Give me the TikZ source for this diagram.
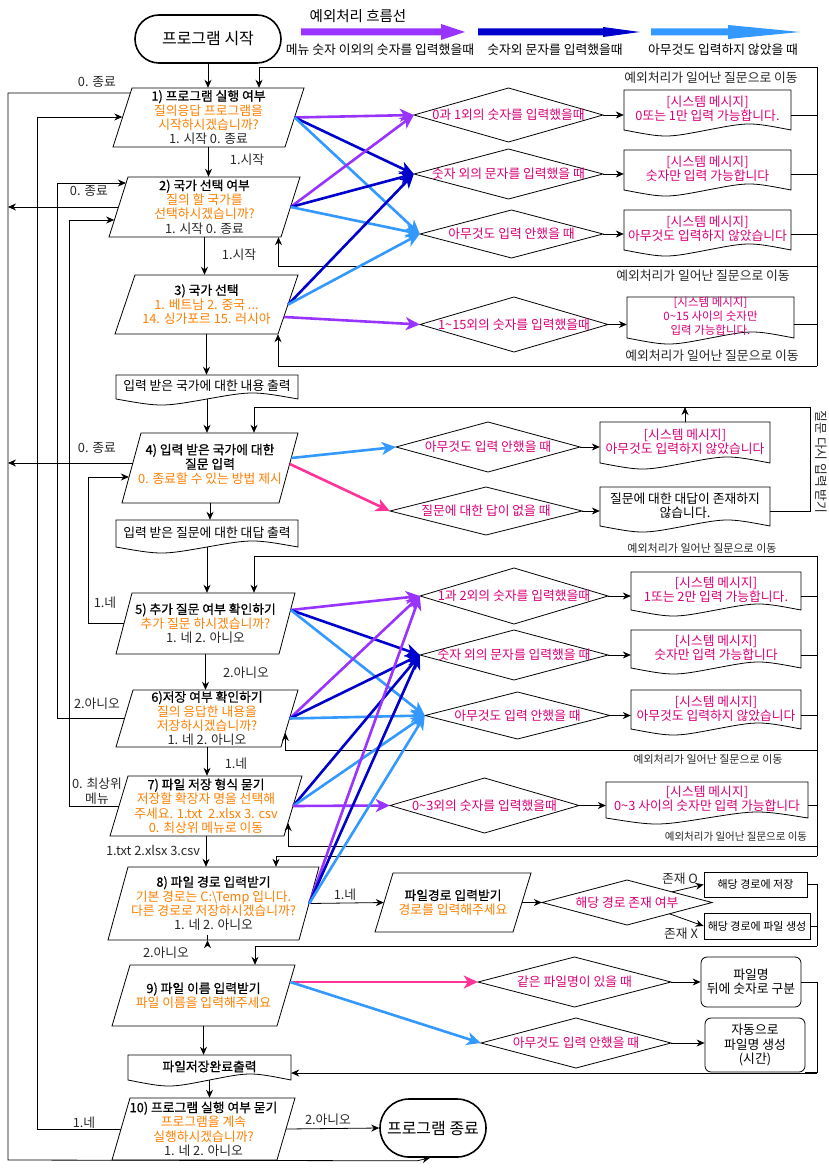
\documentclass[tikz,border=0pt]{standalone}
\usepackage{fontspec}
\setmainfont{Noto Sans CJK KR}
\newfontfamily\krb{Noto Sans CJK KR}[FakeBold=0.8]
\usetikzlibrary{arrows.meta,calc}
\definecolor{ora}{RGB}{255,128,0}
\definecolor{pk}{RGB}{218,0,120}
\definecolor{pkA}{RGB}{255,51,153}
\definecolor{pur}{RGB}{153,51,255}
\definecolor{dkb}{RGB}{0,0,204}
\definecolor{ltb}{RGB}{51,153,255}
\definecolor{gry}{RGB}{40,40,40}
\newcommand\fs{\fontsize{12.8}{14.4}\selectfont}
\newcommand\fsm{\fontsize{11}{13}\selectfont}
\newcommand\fsmid{\fontsize{11.5}{14}\selectfont}
\newcommand\fst{\fontsize{16}{18}\selectfont}
\newcommand\fsb{\krb\fontsize{12.8}{14.4}\selectfont}
\newcommand\pgram[8]{%
  \draw[box] (#2,#4) -- (#3,#4) -- ({#3-#6},#5) -- ({#2-#6},#5) -- cycle;
  \node[inner sep=0pt,minimum width={(#3-#2)*1pt},minimum height={(#5-#4)*1pt}] (#1) at ({(#2+#3-#6)/2},{(#4+#5)/2}) {};
  \node[tx] (#1t) at ($(#1)+(0,#8)$) {#7};
}
\newcommand\dmd[6]{%
  \draw[box] ({#2-#4/2},#3) -- (#2,{#3-#5/2}) -- ({#2+#4/2},#3) -- (#2,{#3+#5/2}) -- cycle;
  \node[inner sep=0pt,minimum width={#4*1pt},minimum height={#5*1pt}] (#1) at (#2,#3) {};
  \node[tx,text=pk] (#1t) at (#1) {#6};
}
\newcommand\docshape[8]{%
  \draw[box] (#2,#3) -- (#4,#3) -- (#4,#5) .. controls ({#2+0.75*(#4-#2)},{#5-#6}) .. ({(#2+#4)/2},#5) .. controls ({#2+0.25*(#4-#2)},{#5+#6}) .. (#2,#5) -- cycle;
  \node[inner sep=0pt,minimum width={(#4-#2)*1pt},minimum height={(#5-#3)*1pt}] (#1) at ({(#2+#4)/2},{(#3+#5)/2}) {};
  \node[tx,#7] (#1t) at ($(#1)+(0,-1)$) {#8};
}
\begin{document}
\begin{tikzpicture}[x=1pt,y=-1pt,font=\fs,
  tx/.style={align=center,inner sep=0pt},
  box/.style={draw=black,line width=0.8pt,fill=white},
  ln/.style={draw=black,line width=0.8pt},
  arr/.style={ln,-{Stealth[length=8pt,width=7pt]}},
  ca/.style={line width=2.6pt,-{Stealth[length=14pt,width=13pt,inset=4pt]}},
  lab/.style={inner sep=0pt,font=\fs,text=gry},
  slab/.style={inner sep=0pt,font=\fsm,text=gry},
  term/.style={draw=black,line width=1.6pt,fill=white,inner sep=0pt,font=\fst}]
\fill[white] (0,0) rectangle (829,1169);
\useasboundingbox (0,0) rectangle (829,1169);

% ---------- legend ----------
\node[lab,text=black,font=\fontsize{14.5}{16}\selectfont] (legt) at (358,16) {예외처리 흐름선};
\fill[pur] (301,28.5) -- (441,28.5) -- (441,24) -- (465,32) -- (441,40) -- (441,35.5) -- (301,35.5) -- cycle;
\fill[dkb] (478,28.5) -- (603,28.5) -- (603,27) -- (640,32) -- (603,37) -- (603,35.5) -- (478,35.5) -- cycle;
\fill[ltb] (651,28.5) -- (728,28.5) -- (728,25) -- (800,32) -- (728,39) -- (728,35.5) -- (651,35.5) -- cycle;
\node[lab,text=black] (leg1) at (380,50) {메뉴 숫자 이외의 숫자를 입력했을때};
\node[lab,text=black] (leg2) at (555,50) {숫자외 문자를 입력했을때};
\node[lab,text=black] (leg3) at (723,50) {아무것도 입력하지 않았을 때};

% ---------- terminals ----------
\node[term,minimum width=146pt,minimum height=48pt,rounded corners=24pt] (start) at (208,39) {프로그램 시작};
\node[term,minimum width=106pt,minimum height=58pt,rounded corners=29pt] (stop) at (433,1128) {프로그램 종료};

% ---------- main column ----------
\pgram{p1}{132}{304}{88}{147}{19}{{\krb 1) 프로그램 실행 여부}\\{\color{ora}질의응답 프로그램을}\\{\color{ora}시작하시겠습니까?}\\{\color{gry}1. 시작 0. 종료}}{0}
\pgram{p2}{128}{300}{177}{237}{19}{{\krb 2) 국가 선택 여부}\\{\color{ora}질의 할 국가를}\\{\color{ora}선택하시겠습니까?}\\{\color{gry}1. 시작 0. 종료}}{0}
\pgram{p3}{135}{298}{275}{334}{20}{{\krb 3) 국가 선택}\\{\color{ora}1. 베트남 2. 중국 ...}\\{\color{ora}14. 싱가포르 15. 러시아}}{0}
\docshape{doc1}{116}{375}{298}{399}{8}{text=black}{입력 받은 국가에 대한 내용 출력}
\pgram{p4}{141}{298}{433}{503}{19}{{\krb 4) 입력 받은 국가에 대한}\\{\krb 질문 입력}\\{\color{ora}0. 종료할 수 있는 방법 제시}}{-4}
\docshape{doc2}{116}{520}{298}{547}{8}{text=black}{입력 받은 질문에 대한 대답 출력}
\pgram{p5}{132}{295}{593}{654}{16}{{\krb 5) 추가 질문 여부 확인하기}\\{\color{ora}추가 질문 하시겠습니까?}\\{\color{gry}1. 네 2. 아니오}}{0}
\pgram{p6}{133}{298}{690}{747}{17}{{\krb 6)저장 여부 확인하기}\\{\color{ora}질의 응답한 내용을}\\{\color{ora}저장하시겠습니까?}\\{\color{gry}1. 네 2. 아니오}}{0}
\pgram{p7}{128}{302}{776}{836}{18}{{\krb 7) 파일 저장 형식 묻기}\\{\color{ora}저장할 확장자 명을 선택해}\\{\color{ora}주세요. 1.txt\ \ 2.xlsx 3. csv}\\{\color{ora}0. 최상위 메뉴로 이동}}{0}
\pgram{p8}{128}{319}{867}{940}{20}{{\krb 8) 파일 경로 입력받기}\\{\color{ora}기본 경로는 C:\textbackslash Temp 입니다.}\\{\color{ora}다른 경로로 저장하시겠습니까?}\\{\color{gry}1. 네 2. 아니오}}{0}
\pgram{p9}{130}{295}{965}{1026}{18}{{\krb 9) 파일 이름 입력받기}\\{\color{ora}파일 이름을 입력해주세요}}{0}
\docshape{doc3}{128}{1055}{291}{1080}{8}{text=black,font=\fsb}{파일저장완료출력}
\pgram{p10}{130}{295}{1098}{1160}{18}{{\krb 10) 프로그램 실행 여부 묻기}\\{\color{ora}프로그램을 계속}\\{\color{ora}실행하시겠습니까?}\\{\color{gry}1. 네 2. 아니오}}{0}
\pgram{pf}{393}{531}{873}{932}{18}{{\krb 파일경로 입력받기}\\{\color{ora}경로를 입력해주세요}}{0}

% ---------- diamonds ----------
\dmd{d1}{508.5}{115}{189}{54}{0과 1외의 숫자를 입력했을때}
\dmd{d2}{508.5}{174}{189}{50}{숫자 외의 문자를 입력했을 때}
\dmd{d3}{511.5}{234}{183}{48}{아무것도 입력 안했을 때}
\dmd{d4}{514}{324.5}{188}{55}{1\textasciitilde15외의 숫자를 입력했을때}
\dmd{d5}{488}{447}{184}{50}{아무것도 입력 안했을 때}
\dmd{d6}{486}{511}{192}{48}{질문에 대한 답이 없을 때}
\dmd{d7}{514}{596}{188}{56}{1과 2외의 숫자를 입력했을때}
\dmd{d8}{514}{655}{188}{50}{숫자 외의 문자를 입력했을 때}
\dmd{d9}{517.5}{715.5}{185}{47}{아무것도 입력 안했을 때}
\dmd{d10}{484.5}{805.5}{189}{55}{0\textasciitilde3외의 숫자를 입력했을때}
\dmd{dp}{627}{902.5}{170}{45}{해당 경로 존재 여부}
\dmd{d11}{574.5}{982}{193}{50}{같은 파일명이 있을 때}
\dmd{d12}{576}{1043}{190}{50}{아무것도 입력 안했을 때}

% ---------- message boxes ----------
\docshape{m1}{624}{90}{791}{130}{8}{text=pk}{[시스템 메시지]\\0또는 1만 입력 가능합니다.}
\docshape{m2}{624}{150}{791}{190}{8}{text=pk}{[시스템 메시지]\\숫자만 입력 가능합니다}
\docshape{m3}{624}{210}{791}{250}{8}{text=pk}{[시스템 메시지]\\아무것도 입력하지 않았습니다}
\docshape{m4}{627}{297}{794}{338}{8}{text=pk,font=\fsmid}{[시스템 메시지]\\0\textasciitilde15 사이의 숫자만\\입력 가능합니다.}
\docshape{m5}{600}{422}{770}{463}{8}{text=pk}{[시스템 메시지]\\아무것도 입력하지 않았습니다}
\docshape{m6}{600}{487}{770}{526}{8}{text=black}{질문에 대한 대답이 존재하지\\않습니다.}
\docshape{m7}{631}{572}{801}{610}{8}{text=pk}{[시스템 메시지]\\1또는 2만 입력 가능합니다.}
\docshape{m8}{631}{630}{801}{668}{8}{text=pk}{[시스템 메시지]\\숫자만 입력 가능합니다}
\docshape{m9}{631}{690}{801}{729}{8}{text=pk}{[시스템 메시지]\\아무것도 입력하지 않았습니다}
\docshape{m10}{606}{782}{808}{818}{8}{text=pk}{[시스템 메시지]\\0\textasciitilde3 사이의 숫자만 입력 가능합니다}

% ---------- result boxes ----------
\node[box,inner sep=0pt,minimum width=103pt,minimum height=25pt,font=\fsm] (r1) at (755.5,884.5) {해당 경로에 저장};
\node[box,inner sep=0pt,minimum width=106pt,minimum height=26pt,font=\fsm] (r2) at (757,926) {해당 경로에 파일 생성};
\node[box,tx,rounded corners=6pt,minimum width=100pt,minimum height=50pt] (r3) at (751,982) {파일명\\뒤에 숫자로 구분};
\node[box,tx,rounded corners=6pt,minimum width=100pt,minimum height=54pt] (r4) at (755,1045) {자동으로\\파일명 생성\\(시간)};

% ---------- main flow ----------
\draw[arr] (start.south) -- (start.south |- p1.north);
\draw[arr] (p1.south) -- (p1.south |- p2.north);
\draw[arr] (p2.south) -- (p2.south |- p3.north);
\draw[arr] (p3.south) -- (p3.south |- doc1.north);
\draw[arr] (doc1.south) -- (doc1.south |- p4.north);
\draw[arr] (p4.south) -- (p4.south |- doc2.north);
\draw[arr] (doc2.south) -- (doc2.south |- p5.north);
\draw[arr] (p5.south) -- (p5.south |- p6.north);
\draw[arr] (p6.south) -- (p6.south |- p7.north);
\draw[arr] (p7.south) -- (p7.south |- p8.north);
\draw[arr] ($(p8.south)+(-6,0)$) -- ($(p8.south)+(-6,0)$ |- p9.north);
\draw[arr] (p9.south) -- (p9.south |- doc3.north);
\draw[arr] (doc3.south) -- (doc3.south |- p10.north);
\draw[arr] (p10.east) -- (stop.west);
\draw[arr] (p8.east) -- (pf.west);
\draw[arr] (pf.east) -- (dp.west);
\draw[arr] ($(dp.north)!0.53!(dp.east)$) -- (r1.west);
\draw[arr] ($(dp.south)!0.5!(dp.east)$) -- (r2.west);
\node[lab] (l1) at (247,160) {1.시작};
\node[lab] (l2) at (239,255) {1.시작};
\node[lab] (l3) at (246,673) {2.아니오};
\node[lab] (l4) at (236,764) {1.네};
\node[lab] (l5) at (153,850) {1.txt 2.xlsx 3.csv};
\node[lab] (l6) at (166,953) {2.아니오};
\node[lab] (l7) at (345,895) {1.네};
\node[lab] (l8) at (328,1120) {2.아니오};
\node[lab] (l9) at (680,879) {존재 O};
\node[lab] (l10) at (681,934) {존재 X};

% diamond -> message
\foreach \d/\m in {d1/m1,d2/m2,d3/m3,d4/m4,d5/m5,d6/m6,d7/m7,d8/m8,d9/m9,d10/m10,d11/r3,d12/r4}
  \draw[arr] (\d.east) -- (\d.east -| \m.west);

% ---------- right return lines ----------
\coordinate (ra) at (817,67);
\coordinate (rb) at (817,366);
\coordinate (rc) at (817,266);
\draw[ln] (ra) -- (rb);
\draw[arr] (ra) -| ($(p1.north)+(50.5,0)$);
\foreach \d/\m in {d1/m1,d2/m2,d3/m3,d4/m4}
  \draw[ln] (\d.east -| \m.east) -- (\d.east -| ra);
\draw[arr] (rc) -| ($(p2.south)+(74,0)$);
\draw[arr] (rb) -| ($(p3.south)+(71.5,0)$);
\node[lab] (e1) at (711,78) {예외처리가 일어난 질문으로 이동};
\node[lab] (e2) at (703,276) {예외처리가 일어난 질문으로 이동};
\node[lab] (e3) at (712,356) {예외처리가 일어난 질문으로 이동};

\coordinate (rd) at (810,407);
\draw[arr] (d6.east -| m6.east) -- (d6.east -| rd) -- (rd) -| ($(p4.north)+(44,0)$);
\draw[arr] (m5.north) -- (m5.north |- rd);
\node[lab,rotate=-90] (vt) at (821,462) {질문 다시 입력 받기};

\coordinate (re) at (817,556);
\coordinate (rf) at (817,856);
\coordinate (rg) at (817,750);
\coordinate (rh) at (817,846);
\draw[ln] (re) -- (rf);
\draw[arr] (re) -| ($(p5.north)+(48.5,0)$);
\foreach \d/\m in {d7/m7,d8/m8,d9/m9,d10/m10}
  \draw[ln] (\d.east -| \m.east) -- (\d.east -| re);
\draw[arr] (rg) -| ($(p6.east)+(-4.3,14.5)$);
\draw[arr] (rh) -| ($(p7.east)+(-5.1,17)$);
\draw[arr] (rf) -| ($(p8.north)+(62.5,0)$);
\node[slab] (e4) at (702,548) {예외처리가 일어난 질문으로 이동};
\node[slab] (e5) at (708,759) {예외처리가 일어난 질문으로 이동};
\node[slab,font=\fontsize{10.5}{12}\selectfont] (e6) at (736,837) {예외처리가 일어난 질문으로 이동};

\coordinate (ri) at (817,946);
\draw[ln] (r1.east) -| (ri);
\draw[ln] (r2.east) -- (r2.east -| ri);
\draw[arr] (ri) -| ($(p9.north)+(51.5,0)$);

\coordinate (rj) at (817,1073);
\draw[ln] (r3.east) -| (rj);
\draw[ln] (r4.south east) -- (r4.south east -| rj);
\draw[arr] (rj) -- (rj -| doc3.east);

% ---------- left lines ----------
\coordinate (L1) at (8,1160);
\coordinate (p1a) at ($(p1.west)+(7.9,-24.5)$);
\draw[arr] (p1a) -| (L1) -- ($(stop.south)+(-16,3)$) -- ($(stop.south)+(-3,0)$);
\node[lab] (z1) at (97,82) {0. 종료};
\draw[arr] (p2.west) -- (p2.west -| L1);
\node[lab] (z2) at (89,191) {0. 종료};
\coordinate (p4a) at ($(p4.west)+(1.4,-5)$);
\draw[arr] (p4a) -- (p4a -| L1);
\node[lab] (z3) at (97,448) {0. 종료};

\coordinate (L37) at (37,117);
\draw[arr] (p10.west) -| (L37) -- (L37 -| p1.west);
\node[lab] (z4) at (84,1123) {1.네};
\coordinate (L57) at (57,183);
\draw[arr] (p6.west) -| (L57) -- ($(p2.west)+(7.6,-24)$);
\node[lab] (z5) at (97,704) {2.아니오};
\coordinate (L69) at (69,220);
\draw[arr] (p7.west) -| (L69) -- ($(p2.west)+(-4.1,13)$);
\node[lab,align=center] (z6) at (97,791) {0. 최상위\\메뉴};
\coordinate (L88) at (88,477);
\draw[arr] (p5.west) -| (L88) -- ($(p4.west)+(-2.4,9)$);
\node[lab] (z7) at (105,603) {1.네};

% ---------- coloured exception arrows ----------
\draw[ca,pur] (p1.east) -- (d1.west);
\draw[ca,dkb] (p1.east) -- (d2.west);
\draw[ca,ltb] (p1.east) -- (d3.west);
\draw[ca,pur] (p2.east) -- (d1.west);
\draw[ca,dkb] (p2.east) -- (d2.west);
\draw[ca,ltb] (p2.east) -- (d3.west);
\draw[ca,dkb] (p3.east) -- (d2.west);
\draw[ca,ltb] (p3.east) -- (d3.west);
\draw[ca,pur] ($(p3.east)+(-4.2,12.5)$) -- (d4.west);
\draw[ca,ltb] ($(p4.east)+(2.7,-10)$) -- (d5.west);
\draw[ca,pkA] ($(p4.east)+(1.1,-4)$) -- (d6.west);
\coordinate (p5o) at ($(p5.east)+(3.5,-13.5)$);
\draw[ca,pur] (p5o) -- (d7.west);
\draw[ca,dkb] (p5o) -- (d8.west);
\draw[ca,ltb] (p5o) -- (d9.west);
\draw[ca,pur] (p6.east) -- (d7.west);
\draw[ca,dkb] (p6.east) -- (d8.west);
\draw[ca,ltb] (p6.east) -- (d9.west);
\draw[ca,dkb] (p7.east) -- (d8.west);
\draw[ca,ltb] (p7.east) -- (d9.west);
\draw[ca,pur] (p7.east) -- (d10.west);
\draw[ca,pur] (p8.east) -- (d7.west);
\draw[ca,dkb] (p8.east) -- (d8.west);
\draw[ca,ltb] (p8.east) -- (d9.west);
\coordinate (p9o) at ($(p9.east)+(4,-13.5)$);
\draw[ca,pkA] (p9o) -- (d11.west);
\draw[ca,ltb] (p9o) -- (d12.west);
\end{tikzpicture}
\end{document}
